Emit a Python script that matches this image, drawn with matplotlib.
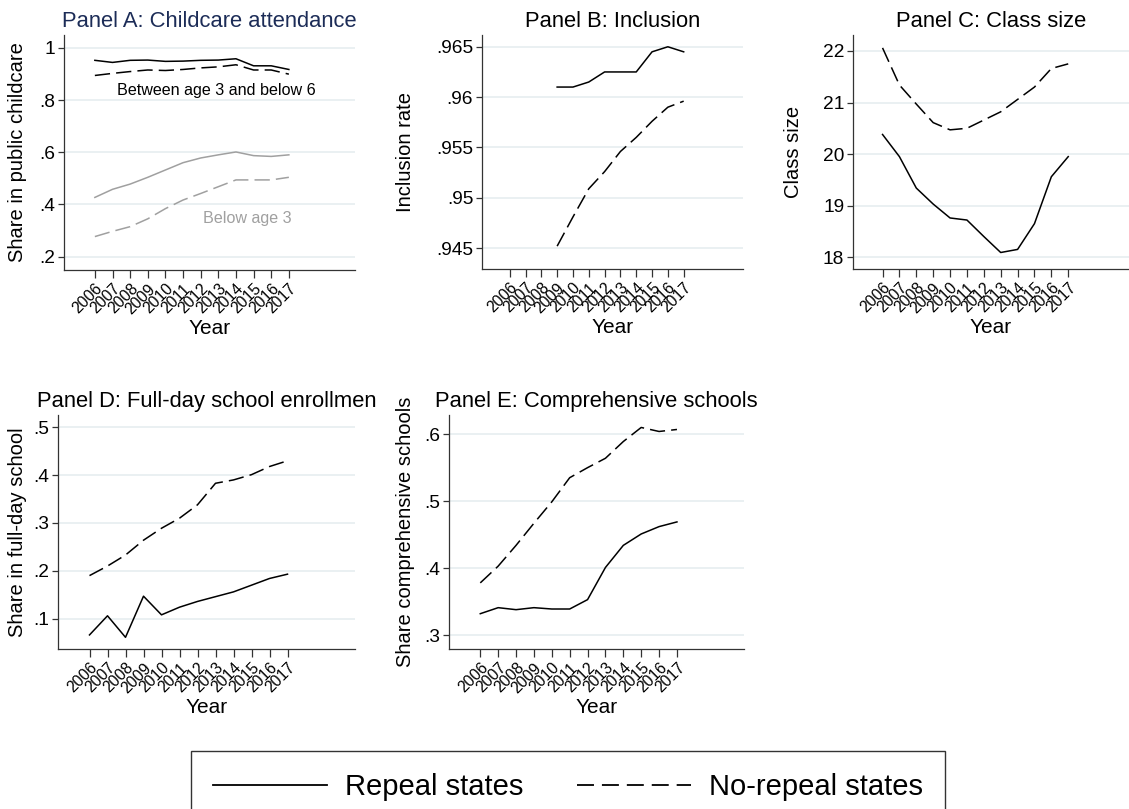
import matplotlib
matplotlib.use('Agg')
import matplotlib.pyplot as plt
from matplotlib.lines import Line2D

plt.rcParams['font.family'] = ['Liberation Sans', 'DejaVu Sans']

years = list(range(2006, 2018))
year_labels = [str(y) for y in years]

# Panel A: childcare attendance
a_rep_3to6 = [.952, .944, .952, .953, .948, .949, .952, .953, .958, .931, .931, .917]
a_norep_3to6 = [.894, .902, .909, .915, .913, .917, .923, .927, .935, .915, .915, .899]
a_rep_below3 = [.427, .458, .478, .504, .532, .560, .578, .590, .601, .587, .584, .590]
a_norep_below3 = [.277, .297, .315, .345, .384, .417, .442, .468, .494, .494, .494, .504]

# Panel B: inclusion (2009-2017)
b_years = list(range(2009, 2018))
b_rep = [.961, .961, .9615, .9625, .9625, .9625, .9645, .965, .9645]
b_norep = [.9452, .9481, .9509, .9526, .9546, .9560, .9576, .9590, .9596]

# Panel C: class size
c_rep = [20.38, 19.95, 19.34, 19.03, 18.76, 18.72, 18.40, 18.09, 18.15, 18.65, 19.56, 19.95]
c_norep = [22.06, 21.34, 20.97, 20.61, 20.47, 20.50, 20.66, 20.82, 21.06, 21.30, 21.66, 21.75]

# Panel D: full-day school
d_rep = [.066, .106, .061, .147, .108, .124, .136, .146, .156, .170, .184, .193]
d_norep = [.190, .210, .233, .264, .289, .310, .338, .383, .390, .401, .418, .430]

# Panel E: comprehensive schools
e_rep = [.332, .341, .338, .341, .339, .339, .353, .401, .434, .451, .462, .469]
e_norep = [.378, .403, .434, .467, .499, .535, .550, .564, .589, .610, .604, .607]

W, H = 1129, 809
fig = plt.figure(figsize=(W / 100, H / 100), dpi=100)

DASH = (10, 4)
GRID = '#e6eef0'
SPINE = '#333333'


def make_ax(l, r, t, b):
    ax = fig.add_axes([l / W, 1 - b / H, (r - l) / W, (b - t) / H])
    ax.px = (l, r, t, b)
    return ax


def style(ax, title, ylabel, yticks, ylabels, ylim, ylab_right, title_color='black'):
    l, r, t, b = ax.px
    ax.set_xlim(2004.25, 2020.75)
    ax.set_ylim(*ylim)
    ax.set_xticks(years)
    ax.set_xticklabels(year_labels, rotation=45, ha='right', va='top',
                       rotation_mode='anchor', fontsize=11.3)
    ax.set_yticks(yticks)
    ax.set_yticklabels(ylabels, fontsize=13.8)
    ax.tick_params(axis='x', length=6, width=0.9, color=SPINE, pad=2)
    ax.tick_params(axis='y', length=4.3, width=0.9, color=SPINE, pad=2)
    for s in ['top', 'right']:
        ax.spines[s].set_visible(False)
    for s in ['left', 'bottom']:
        ax.spines[s].set_color(SPINE)
        ax.spines[s].set_linewidth(0.9)
    ax.yaxis.grid(True, color=GRID, linewidth=1.2)
    ax.set_axisbelow(True)
    ax.set_title(title, fontsize=15.8, pad=6, color=title_color)
    ax.set_ylabel(ylabel, fontsize=14.5)
    ax.yaxis.set_label_coords((ylab_right - l) / (r - l), 0.5)
    ax.set_xlabel('Year', fontsize=15)
    ax.xaxis.set_label_coords(0.5, -49 / (b - t))


# Panel A
axA = make_ax(64, 355, 35, 270)
axA.plot(years, a_rep_3to6, color='black', lw=1.1)
axA.plot(years, a_norep_3to6, color='black', lw=1.1, dashes=DASH)
axA.plot(years, a_rep_below3, color='#a0a0a0', lw=1.1)
axA.plot(years, a_norep_below3, color='#a0a0a0', lw=1.1, dashes=DASH)
axA.text(2012.87, .835, 'Between age 3 and below 6', fontsize=11.6, ha='center', va='center')
axA.text(2014.65, .348, 'Below age 3', fontsize=11.6, ha='center', va='center', color='#a0a0a0')
style(axA, 'Panel A: Childcare attendance', 'Share in public childcare',
      [.2, .4, .6, .8, 1], ['.2', '.4', '.6', '.8', '1'], (.149, 1.049), 27,
      title_color='#1c2c57')

# Panel B
axB = make_ax(482, 743, 35, 269)
axB.plot(b_years, b_rep, color='black', lw=1.1)
axB.plot(b_years, b_norep, color='black', lw=1.1, dashes=DASH)
style(axB, 'Panel B: Inclusion', 'Inclusion rate',
      [.945, .95, .955, .96, .965], ['.945', '.95', '.955', '.96', '.965'],
      (.94293, .96617), 415)

# Panel C
axC = make_ax(853, 1129, 35, 269)
axC.plot(years, c_rep, color='black', lw=1.1)
axC.plot(years, c_norep, color='black', lw=1.1, dashes=DASH)
style(axC, 'Panel C: Class size', 'Class size',
      [18, 19, 20, 21, 22], ['18', '19', '20', '21', '22'],
      (17.77, 22.31), 803)
axC.set_xlim(2004.25, 2020.6)

# Panel D
axD = make_ax(58, 355, 415, 649)
axD.plot(years, d_rep, color='black', lw=1.1)
axD.plot(years, d_norep, color='black', lw=1.1, dashes=DASH)
style(axD, 'Panel D: Full-day school enrollmen', 'Share in full-day school',
      [.1, .2, .3, .4, .5], ['.1', '.2', '.3', '.4', '.5'],
      (.0366, .5257), 27)

# Panel E
axE = make_ax(449, 744, 415, 649)
axE.plot(years, e_rep, color='black', lw=1.1)
axE.plot(years, e_norep, color='black', lw=1.1, dashes=DASH)
style(axE, 'Panel E: Comprehensive schools', 'Share comprehensive schools',
      [.3, .4, .5, .6], ['.3', '.4', '.5', '.6'],
      (.2793, .6286), 415)

# Legend
handles = [Line2D([], [], color='black', lw=1.3),
           Line2D([], [], color='black', lw=1.3, dashes=(9.4, 4.4))]
leg = fig.legend(handles, ['Repeal states', 'No-repeal states'],
                 loc='lower left', bbox_to_anchor=(191 / W, -14 / H),
                 ncol=2, frameon=True, fancybox=False,
                 edgecolor='black', handlelength=3.9, handletextpad=0.62,
                 columnspacing=1.85, borderpad=0.75, borderaxespad=0,
                 prop={'size': 21})
leg.get_frame().set_linewidth(1.0)

fig.savefig('out.png', dpi=100, facecolor='white')
